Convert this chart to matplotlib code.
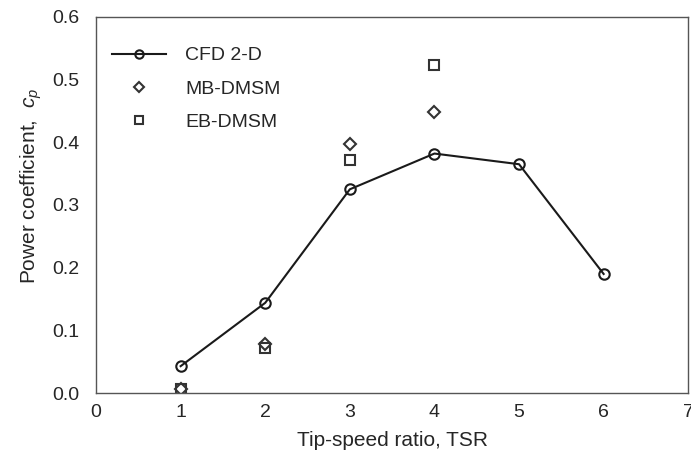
import matplotlib.pyplot as plt

plt.rcParams['font.family'] = ['Liberation Sans', 'DejaVu Sans']
plt.rcParams['mathtext.fontset'] = 'custom'
plt.rcParams['mathtext.it'] = 'Liberation Sans:italic'
plt.rcParams['mathtext.rm'] = 'Liberation Sans'

# power coefficient vs tip-speed ratio
tsr_cfd = [1, 2, 3, 4, 5, 6]
cp_cfd = [0.043, 0.144, 0.325, 0.382, 0.365, 0.19]

tsr_dmsm = [1, 2, 3, 4]
cp_mb = [0.006, 0.078, 0.397, 0.448]
cp_eb = [0.007, 0.072, 0.371, 0.523]

text_col = '#262626'
edge = '#333333'

fig = plt.figure(figsize=(6.91, 4.55), dpi=100)
ax = fig.add_axes([0.139, 0.136, 0.857, 0.827])

ax.plot(tsr_cfd, cp_cfd, '-o', color='#1a1a1a', lw=1.5, ms=7.5, mfc='none',
        mec='#1a1a1a', mew=1.5, label='CFD 2-D')
ax.plot(tsr_dmsm, cp_mb, 'D', ls='none', ms=6, mfc='none', mec=edge,
        mew=1.5, label='MB-DMSM')
ax.plot(tsr_dmsm, cp_eb, 's', ls='none', ms=7.5, mfc='none', mec=edge,
        mew=1.5, label='EB-DMSM')

ax.set_xlim(0, 7)
ax.set_ylim(0, 0.6)
ax.set_xticks(range(8))
ax.set_yticks([0, 0.1, 0.2, 0.3, 0.4, 0.5, 0.6])
ax.set_yticklabels([f'{v:.1f}' for v in ax.get_yticks()])
ax.tick_params(length=0, labelsize=14, colors=text_col)
ax.tick_params(axis='x', pad=8)
ax.tick_params(axis='y', pad=12)
for s in ax.spines.values():
    s.set_color('#555555')
    s.set_linewidth(1.0)

ax.set_xlabel('Tip-speed ratio, TSR', fontsize=15, color=text_col, labelpad=7)
ax.set_ylabel('Power coefficient,  $c_p$', fontsize=15, color=text_col)
ax.yaxis.set_label_coords(-0.088, 0.55)

leg = ax.legend(loc='upper left', frameon=False, fontsize=14,
                bbox_to_anchor=(-0.01, 0.977), handlelength=2.8, markerscale=0.8,
                labelspacing=0.8, handletextpad=1.0, borderpad=0.6)
for t in leg.get_texts():
    t.set_color(text_col)

fig.savefig('out.png', dpi=100)
